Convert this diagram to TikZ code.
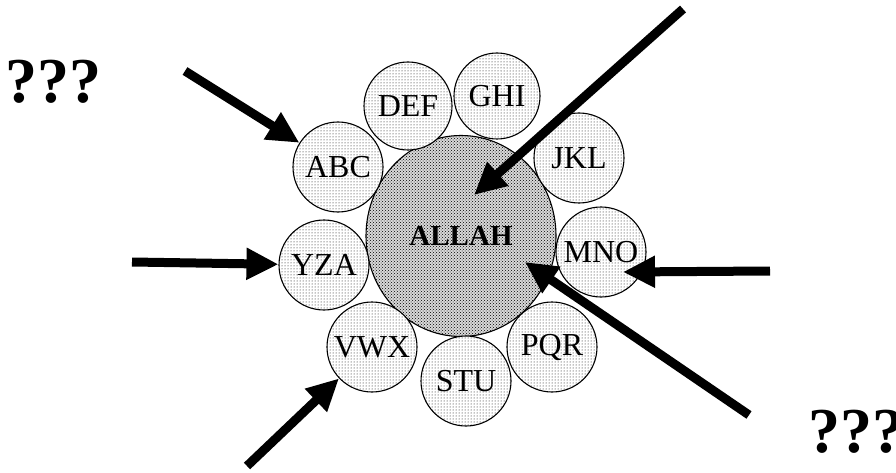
\documentclass[tikz,border=0pt]{standalone}
\usepackage{fontspec}
\setmainfont{Liberation Serif}
\usetikzlibrary{arrows.meta,patterns,shapes.geometric}
\begin{document}
\begin{tikzpicture}[x=1pt,y=-1pt,
  petal/.style={circle,draw,line width=1.1pt,minimum size=90pt,inner sep=0pt,
    preaction={fill=white},pattern=dots,font=\fontsize{32}{32}\selectfont},
  core/.style={ellipse,draw,line width=1.1pt,minimum width=190pt,minimum height=201pt,
    inner sep=0pt,preaction={fill=gray!30},pattern=crosshatch dots,
    font=\bfseries\fontsize{29}{29}\selectfont},
  push/.style={line width=9pt,-{Triangle[length=32pt,width=30pt]}},
  query/.style={font=\bfseries\fontsize{64}{64}\selectfont,inner sep=0pt,anchor=base west}]
\useasboundingbox (0,0) rectangle (896,473);

% central body
\node[core] (allah) at (461,236) {ALLAH};

% surrounding circles
\node[petal] (abc) at (338,167) {ABC};
\node[petal,minimum size=88pt] (def) at (408,106) {DEF};
\node[petal,minimum size=86pt] (ghi) at (497,96) {GHI};
\node[petal] (jkl) at (579,158) {JKL};
\node[petal] (mno) at (601,252) {MNO};
\node[petal] (pqr) at (552,347) {PQR};
\node[petal] (stu) at (466,381) {STU};
\node[petal] (vwx) at (372,347) {VWX};
\node[petal] (yza) at (324,265) {YZA};

% question marks
\node[query] (q1) at (5,103) {???};
\node[query] (q2) at (808,452) {???};

% arrow tails and inner tips
\coordinate (t1) at (185,71);
\coordinate (t2) at (683,9);
\coordinate (t3) at (132,262);
\coordinate (t4) at (770,271);
\coordinate (t5) at (749,415);
\coordinate (t6) at (247,466);
\coordinate (p2) at (474,195);
\coordinate (p4) at (623,272);
\coordinate (p5) at (525,262);

% arrows
\draw[push] (t1) -- (abc);
\draw[push] (t2) -- (p2);
\draw[push] (t3) -- (yza);
\draw[push] (t4) -- (p4);
\draw[push] (t5) -- (p5);
\draw[push] (t6) -- (vwx);
\end{tikzpicture}
\end{document}
